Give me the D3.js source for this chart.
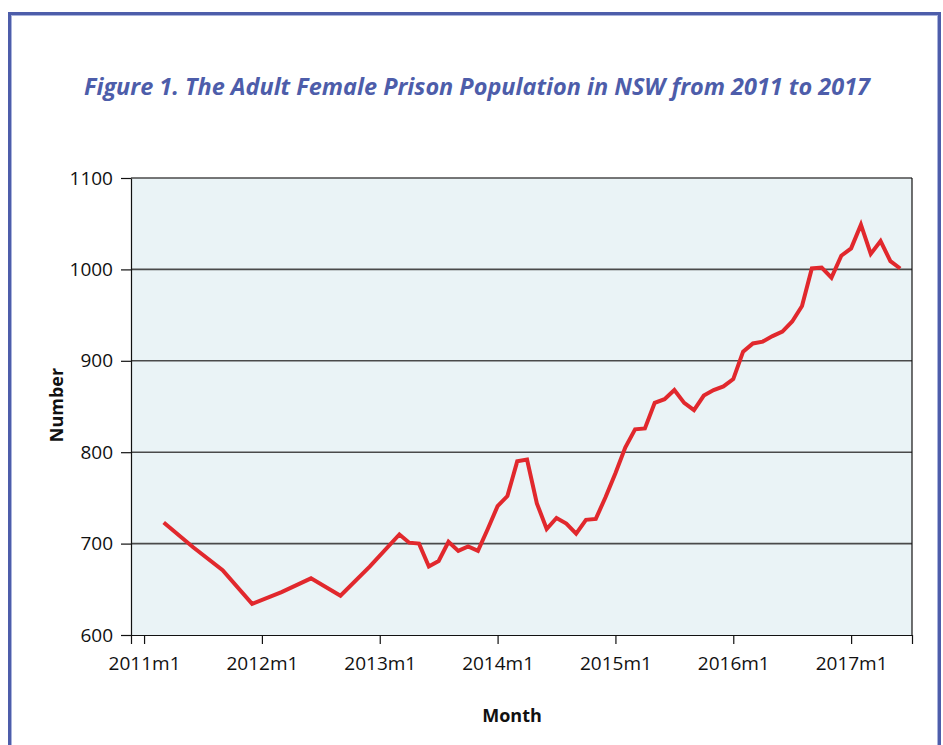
<!DOCTYPE html>
<html>
<head>
<meta charset="utf-8">
<script src="https://cdn.jsdelivr.net/npm/d3@7"></script>
<style>
  body { margin: 0; background: #fff; }
  svg { display: block; }
</style>
</head>
<body>
<div id="chart"></div>
<script>
// quarterly readings 2011-2012, monthly from 2013m3
var months = [
  "2011m3", "2011m6", "2011m9", "2011m12", "2012m3", "2012m6", "2012m9", "2012m12",
  "2013m3", "2013m4", "2013m5", "2013m6", "2013m7", "2013m8", "2013m9", "2013m10", "2013m11", "2013m12",
  "2014m1", "2014m2", "2014m3", "2014m4", "2014m5", "2014m6", "2014m7", "2014m8", "2014m9", "2014m10", "2014m11", "2014m12",
  "2015m1", "2015m2", "2015m3", "2015m4", "2015m5", "2015m6", "2015m7", "2015m8", "2015m9", "2015m10", "2015m11", "2015m12",
  "2016m1", "2016m2", "2016m3", "2016m4", "2016m5", "2016m6", "2016m7", "2016m8", "2016m9", "2016m10", "2016m11", "2016m12",
  "2017m1", "2017m2", "2017m3", "2017m4", "2017m5", "2017m6"
];
var population = [
  723, 696, 671, 634, 647, 662, 643, 675,
  710, 701, 700, 675, 681, 702, 692, 697, 692, 716,
  741, 752, 790, 792, 744, 716, 728, 722, 711, 726, 727, 751,
  777, 805, 825, 826, 854, 858, 868, 854, 846, 862, 868, 872,
  880, 910, 919, 921, 927, 932, 943, 960, 1001, 1002, 991, 1015,
  1023, 1049, 1017, 1031, 1009, 1001
];
var xTickLabels = ["2011m1", "2012m1", "2013m1", "2014m1", "2015m1", "2016m1", "2017m1"];
var yTicks = [600, 700, 800, 900, 1000, 1100];

const WIDTH = 943, HEIGHT = 745;
const PLOT = { LEFT: 131, RIGHT: 912, TOP: 178, BOTTOM: 635 };
const BLUE = "#4d5daa";

// months counted from 2011m1
function monthIndex(s) {
  var p = s.split("m");
  return (+p[0] - 2011) * 12 + (+p[1] - 1);
}

var data = months.map(function (m, i) { return { t: monthIndex(m), v: population[i] }; });

var x = d3.scaleLinear().domain([-1.33, 78.2]).range([PLOT.LEFT, PLOT.RIGHT]);
var y = d3.scaleLinear().domain([600, 1100]).range([PLOT.BOTTOM, PLOT.TOP]);

const svg = d3.select("#chart").append("svg")
  .attr("width", WIDTH)
  .attr("height", HEIGHT);

// outer frame
svg.append("rect")
  .attr("x", 9.5).attr("y", 13.5)
  .attr("width", 930).attr("height", 760)
  .attr("fill", "#fff")
  .attr("stroke", BLUE)
  .attr("stroke-width", 3);
svg.append("rect")
  .attr("x", 11.5).attr("y", 15.5)
  .attr("width", 926).attr("height", 760)
  .attr("fill", "none")
  .attr("stroke", "#a9b3dc")
  .attr("stroke-width", 1);

// title
svg.append("text")
  .attr("x", 477).attr("y", 95)
  .attr("text-anchor", "middle")
  .attr("textLength", 786)
  .attr("lengthAdjust", "spacingAndGlyphs")
  .style("font-family", "'Open Sans', sans-serif")
  .style("font-weight", "bold")
  .style("font-style", "italic")
  .style("font-size", "24px")
  .style("fill", BLUE)
  .text("Figure 1. The Adult Female Prison Population in NSW from 2011 to 2017");

// plot background
svg.append("rect")
  .attr("x", PLOT.LEFT).attr("y", PLOT.TOP)
  .attr("width", PLOT.RIGHT - PLOT.LEFT)
  .attr("height", PLOT.BOTTOM - PLOT.TOP)
  .attr("fill", "#eaf3f6");

// gridlines
svg.append("g")
  .selectAll("line")
  .data(yTicks.filter(function (d) { return d > 600; }))
  .enter().append("line")
  .attr("x1", PLOT.LEFT).attr("x2", PLOT.RIGHT)
  .attr("y1", function (d) { return y(d); })
  .attr("y2", function (d) { return y(d); })
  .attr("stroke", "#4a4a4a")
  .attr("stroke-width", 1.6);

// right border
svg.append("line")
  .attr("x1", PLOT.RIGHT).attr("x2", PLOT.RIGHT)
  .attr("y1", PLOT.TOP).attr("y2", PLOT.BOTTOM)
  .attr("stroke", "#111")
  .attr("stroke-width", 1.2);

// y axis
var yAxis = svg.append("g")
  .attr("transform", `translate(${PLOT.LEFT},0)`)
  .call(d3.axisLeft(y).tickValues(yTicks).tickFormat(d3.format("d"))
    .tickSize(10).tickPadding(8).tickSizeOuter(0));

// x axis: labelled yearly ticks plus unlabelled ticks at both ends
var xTickVals = xTickLabels.map(function (d) { return monthIndex(d); });
var xAxis = svg.append("g")
  .attr("transform", `translate(0,${PLOT.BOTTOM})`)
  .call(d3.axisBottom(x)
    .tickValues([x.domain()[0]].concat(xTickVals, [x.domain()[1]]))
    .tickFormat(function (d) {
      var i = xTickVals.indexOf(d);
      return i >= 0 ? xTickLabels[i] : "";
    })
    .tickSize(9).tickPadding(13).tickSizeOuter(0));

[yAxis, xAxis].forEach(function (g) {
  g.select(".domain").attr("stroke", "#111").attr("stroke-width", 1.2);
  g.selectAll(".tick line").attr("stroke", "#111").attr("stroke-width", 1.2);
  g.selectAll(".tick text")
    .style("font-family", "'Open Sans', sans-serif")
    .style("font-size", "19px")
    .style("fill", "#111");
});

// line
var line = d3.line()
  .x(function (d) { return x(d.t); })
  .y(function (d) { return y(d.v); });

svg.append("path")
  .datum(data)
  .attr("d", line)
  .attr("fill", "none")
  .attr("stroke", "#e1282d")
  .attr("stroke-width", 4)
  .attr("stroke-linejoin", "miter");

// axis titles
svg.append("text")
  .attr("x", 512).attr("y", 722)
  .attr("text-anchor", "middle")
  .style("font-family", "'Open Sans', sans-serif")
  .style("font-weight", "bold")
  .style("font-size", "18px")
  .style("fill", "#111")
  .text("Month");

svg.append("text")
  .attr("transform", "translate(63,405) rotate(-90)")
  .attr("text-anchor", "middle")
  .style("font-family", "'Open Sans', sans-serif")
  .style("font-weight", "bold")
  .style("font-size", "18px")
  .style("fill", "#111")
  .text("Number");
</script>
</body>
</html>
